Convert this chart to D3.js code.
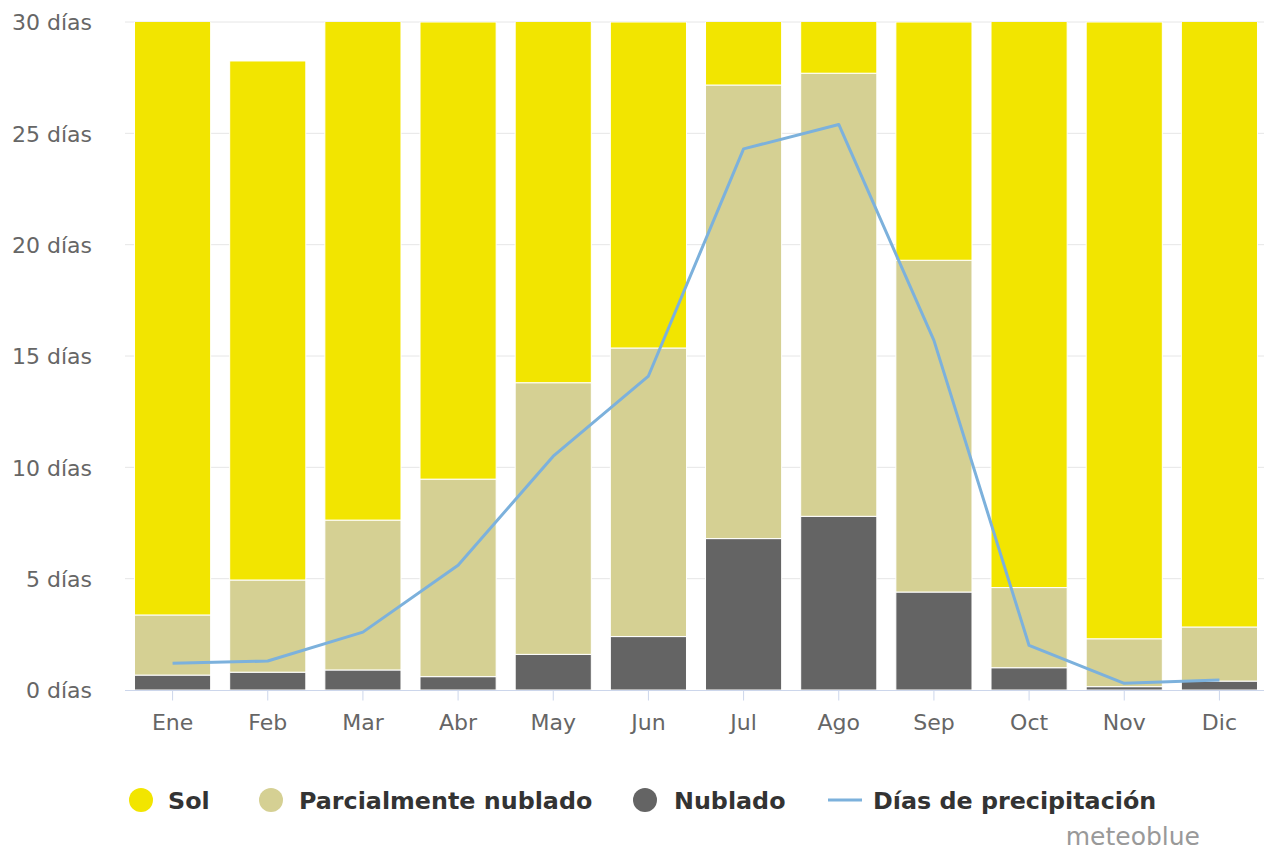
<!DOCTYPE html>
<html>

<head>
    <meta charset="utf-8">
    <title>Nubes y sol</title>
    <script type="text/javascript" src="https://cdn.jsdelivr.net/npm/d3@7"></script>
    <style>
        body { margin: 0; background: #fff; }
        text { font-family: "DejaVu Sans", sans-serif; }
    </style>
</head>

<body>
    <script type="text/javascript">
    /* datos */
    var meses = ['Ene', 'Feb', 'Mar', 'Abr', 'May', 'Jun', 'Jul', 'Ago', 'Sep', 'Oct', 'Nov', 'Dic'];
    var nublado = [0.67, 0.8, 0.9, 0.6, 1.6, 2.4, 6.8, 7.8, 4.4, 1.0, 0.15, 0.4];
    var parcial = [2.7, 4.14, 6.73, 8.87, 12.2, 12.96, 20.37, 19.9, 14.9, 3.6, 2.15, 2.43];
    var sol = [27.63, 23.31, 23.37, 20.53, 17.2, 14.64, 3.83, 3.3, 10.7, 26.4, 27.7, 28.17];
    var precipitacion = [1.2, 1.3, 2.6, 5.6, 10.5, 14.1, 24.3, 25.4, 15.7, 2.0, 0.3, 0.45];
    var yTicks = [0, 5, 10, 15, 20, 25, 30];

    var series = [
        { name: 'Nublado', values: nublado, color: '#646464' },
        { name: 'Parcialmente nublado', values: parcial, color: '#d5d093' },
        { name: 'Sol', values: sol, color: '#f2e500' }
    ];

    var svgWidth = 1264;
    var svgHeight = 853;
    var plot = { left: 125, right: 1267, top: 22, bottom: 690 };

    var svg = d3.select('body').append('svg')
        .attr('width', svgWidth)
        .attr('height', svgHeight);

    var x = d3.scaleBand()
        .domain(meses)
        .range([plot.left, plot.right])
        .paddingInner(0.2)
        .paddingOuter(0.1);

    var y = d3.scaleLinear()
        .domain([0, 30])
        .range([plot.bottom, plot.top]);

    /* cuadrícula */
    svg.append('g').selectAll('line')
        .data(yTicks.filter(function(d) { return d > 0; }))
        .enter().append('line')
        .attr('x1', plot.left)
        .attr('x2', svgWidth)
        .attr('y1', function(d) { return y(d); })
        .attr('y2', function(d) { return y(d); })
        .attr('stroke', '#e6e6e6')
        .attr('stroke-width', 1);

    /* eje y */
    var yAxis = svg.append('g')
        .attr('transform', 'translate(' + 92 + ',0)')
        .call(d3.axisLeft(y).tickValues(yTicks).tickSize(0).tickPadding(0)
            .tickFormat(function(d) { return d + ' días'; }));
    yAxis.select('.domain').remove();
    yAxis.selectAll('text')
        .attr('font-size', '22px')
        .attr('font-family', '"DejaVu Sans", sans-serif')
        .attr('fill', '#666')
        .attr('dy', '0.36em');

    /* barras apiladas */
    svg.append('clipPath').attr('id', 'clip')
        .append('rect')
        .attr('x', 0).attr('y', plot.top)
        .attr('width', svgWidth).attr('height', plot.bottom - plot.top);

    var stackData = meses.map(function(m, i) {
        var row = { mes: m };
        series.forEach(function(s) { row[s.name] = s.values[i]; });
        return row;
    });
    var stacked = d3.stack().keys(series.map(function(s) { return s.name; }))(stackData);

    var barras = svg.append('g').attr('clip-path', 'url(#clip)');
    barras.selectAll('g')
        .data(stacked)
        .enter().append('g')
        .attr('fill', function(d, i) { return series[i].color; })
        .selectAll('rect')
        .data(function(d) { return d; })
        .enter().append('rect')
        .attr('x', function(d) { return x(d.data.mes); })
        .attr('width', x.bandwidth())
        .attr('y', function(d) { return y(d[1]); })
        .attr('height', function(d) { return y(d[0]) - y(d[1]); })
        .attr('stroke', '#fff')
        .attr('stroke-width', 1);

    /* eje x */
    svg.append('line')
        .attr('x1', plot.left).attr('x2', svgWidth)
        .attr('y1', plot.bottom + 0.5).attr('y2', plot.bottom + 0.5)
        .attr('stroke', '#ccd6eb');
    var xAxis = svg.append('g')
        .attr('transform', 'translate(0,' + (plot.bottom + 0.5) + ')')
        .call(d3.axisBottom(x).tickSize(10).tickPadding(14));
    xAxis.select('.domain').remove();
    xAxis.selectAll('line').attr('stroke', '#ccd6eb');
    xAxis.selectAll('text')
        .attr('font-size', '22px')
        .attr('font-family', '"DejaVu Sans", sans-serif')
        .attr('fill', '#666');

    /* línea de precipitación */
    var linea = d3.line()
        .x(function(d, i) { return x(meses[i]) + x.bandwidth() / 2; })
        .y(function(d) { return y(d); });
    svg.append('path')
        .datum(precipitacion)
        .attr('d', linea)
        .attr('fill', 'none')
        .attr('stroke', '#7cb1dc')
        .attr('stroke-width', 3)
        .attr('stroke-linejoin', 'round');

    /* leyenda */
    var leyenda = [
        { name: 'Sol', color: '#f2e500', tipo: 'c', x: 141, tx: 168 },
        { name: 'Parcialmente nublado', color: '#d5d093', tipo: 'c', x: 271, tx: 299 },
        { name: 'Nublado', color: '#646464', tipo: 'c', x: 645, tx: 674 },
        { name: 'Días de precipitación', color: '#7cb1dc', tipo: 'l', x: 845, tx: 873 }
    ];
    var ly = 800;
    var items = svg.append('g').selectAll('g')
        .data(leyenda)
        .enter().append('g');
    items.filter(function(d) { return d.tipo === 'c'; })
        .append('circle')
        .attr('cx', function(d) { return d.x; })
        .attr('cy', ly)
        .attr('r', 12)
        .attr('fill', function(d) { return d.color; });
    items.filter(function(d) { return d.tipo === 'l'; })
        .append('line')
        .attr('x1', function(d) { return d.x - 17; })
        .attr('x2', function(d) { return d.x + 17; })
        .attr('y1', ly).attr('y2', ly)
        .attr('stroke', function(d) { return d.color; })
        .attr('stroke-width', 3);
    items.append('text')
        .attr('x', function(d) { return d.tx; })
        .attr('y', ly)
        .attr('dy', '0.36em')
        .attr('font-size', '23.8px')
        .attr('font-weight', 'bold')
        .attr('fill', '#333')
        .text(function(d) { return d.name; });

    svg.append('text')
        .attr('x', 1200)
        .attr('y', 836)
        .attr('dy', '0.36em')
        .attr('text-anchor', 'end')
        .attr('font-size', '25px')
        .attr('fill', '#999')
        .text('meteoblue');
    </script>
</body>

</html>
